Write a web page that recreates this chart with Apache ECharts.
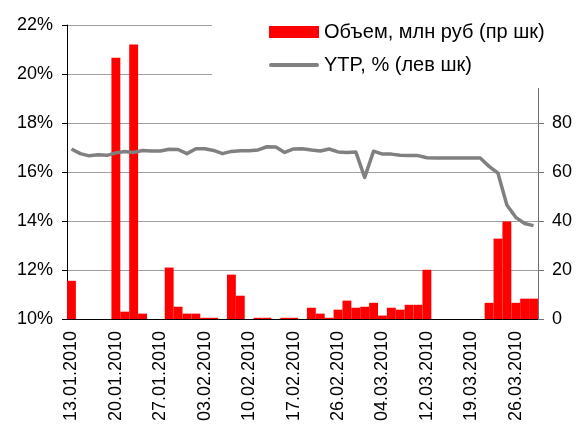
<!DOCTYPE html>
<html>
<head>
<meta charset="utf-8">
<script src="https://cdn.jsdelivr.net/npm/echarts@6/dist/echarts.min.js"></script>
<style>
  html, body { margin: 0; padding: 0; background: #fff; }
  #chart { width: 585px; height: 430px; }
</style>
</head>
<body>
<div id="chart"></div>
<script>
  // trading days, labels shown every 5th
  var dates = ['13.01.2010', '14.01.2010', '15.01.2010', '18.01.2010', '19.01.2010',
    '20.01.2010', '21.01.2010', '22.01.2010', '25.01.2010', '26.01.2010',
    '27.01.2010', '28.01.2010', '29.01.2010', '01.02.2010', '02.02.2010',
    '03.02.2010', '04.02.2010', '05.02.2010', '08.02.2010', '09.02.2010',
    '10.02.2010', '11.02.2010', '12.02.2010', '15.02.2010', '16.02.2010',
    '17.02.2010', '18.02.2010', '19.02.2010', '24.02.2010', '25.02.2010',
    '26.02.2010', '27.02.2010', '01.03.2010', '02.03.2010', '03.03.2010',
    '04.03.2010', '05.03.2010', '09.03.2010', '10.03.2010', '11.03.2010',
    '12.03.2010', '15.03.2010', '16.03.2010', '17.03.2010', '18.03.2010',
    '19.03.2010', '22.03.2010', '23.03.2010', '24.03.2010', '25.03.2010',
    '26.03.2010', '29.03.2010', '30.03.2010']

  // volume, mln rub (right axis)
  var volume = [15.6, 0, 0, 0, 0, 106.6, 3.0, 112, 2.2, 0,
    0, 21, 5.0, 2.2, 2.2, 0.5, 0.5, 0, 18.1, 9.5,
    0, 0.5, 0.5, 0, 0.5, 0.5, 0, 4.6, 2.2, 0.5,
    3.8, 7.5, 4.6, 5.0, 6.6, 1.4, 4.6, 3.8, 5.8, 5.8,
    20.1, 0, 0, 0, 0, 0, 0, 6.6, 32.8, 39.8,
    6.6, 8.3, 8.3]

  // YTP, % (left axis)
  var ytp = [16.94, 16.75, 16.66, 16.70, 16.68, 16.78, 16.84, 16.80, 16.88, 16.86,
    16.86, 16.93, 16.92, 16.75, 16.95, 16.95, 16.88, 16.75, 16.84, 16.87,
    16.87, 16.90, 17.03, 17.02, 16.80, 16.94, 16.95, 16.90, 16.86, 16.94,
    16.82, 16.80, 16.82, 15.78, 16.85, 16.73, 16.73, 16.68, 16.67, 16.67,
    16.58, 16.57, 16.57, 16.57, 16.57, 16.57, 16.57, 16.23, 15.95, 14.65,
    14.15, 13.90, 13.81]

  // left axis ticks, %; right axis 0..120 step 20
  var leftTicks = [10, 12, 14, 16, 18, 20, 22]
  var rightTicks = [0, 20, 40, 60, 80, 100, 120]

  var font = 'Liberation Sans, Arial, sans-serif'
  var chart = echarts.init(document.getElementById('chart'))

  chart.setOption({
    animation: false,
    grid: {
      left: 67,
      right: 38,
      top: 25,
      bottom: 111
    },
    legend: {
      orient: 'vertical',
      left: 264,
      top: 17,
      z: 20,
      itemWidth: 50,
      itemHeight: 12,
      itemGap: 13,
      symbolKeepAspect: true,
      textStyle: { fontFamily: font, fontSize: 20, color: '#000' },
      data: [
        { name: 'Объем, млн руб (пр шк)', icon: 'rect' },
        { name: 'YTP, % (лев шк)', icon: 'path://M2,0 H48 A2,2 0 0 1 48,4 H2 A2,2 0 0 1 2,0 Z' }
      ]
    },
    // white box behind the legend, hides the top of the plot like the original
    graphic: [{
      type: 'rect',
      z: 10,
      shape: { x: 212, y: 0, width: 373, height: 88 },
      style: { fill: '#fff' }
    }],
    xAxis: [{
      type: 'category',
      data: dates,
      boundaryGap: true,
      axisLine: { lineStyle: { color: '#000', width: 1 } },
      axisTick: { interval: 0, length: 6, lineStyle: { color: '#000' } },
      axisLabel: {
        interval: 4,
        rotate: 90,
        margin: 12,
        fontFamily: font,
        fontSize: 18,
        color: '#000'
      },
      splitLine: { show: false }
    }],
    yAxis: [{
      type: 'value',
      position: 'left',
      min: leftTicks[0],
      max: leftTicks[leftTicks.length - 1],
      interval: leftTicks[1] - leftTicks[0],
      axisLine: { show: true, lineStyle: { color: '#000' } },
      axisTick: { show: true, length: 5, lineStyle: { color: '#000', width: 1 } },
      axisLabel: {
        formatter: '{value}%',
        margin: 14,
        fontFamily: font,
        fontSize: 18,
        color: '#000'
      },
      splitLine: { show: true, lineStyle: { color: '#a0a0a0', type: 'solid', width: 1 } }
    }, {
      type: 'value',
      position: 'right',
      min: rightTicks[0],
      max: rightTicks[rightTicks.length - 1],
      interval: rightTicks[1] - rightTicks[0],
      axisLine: { show: true, lineStyle: { color: '#707070' } },
      axisTick: { show: true, length: 6, lineStyle: { color: '#707070', width: 1 } },
      axisLabel: {
        margin: 14,
        fontFamily: font,
        fontSize: 18,
        color: '#000'
      },
      splitLine: { show: false }
    }],
    series: [{
      name: 'Объем, млн руб (пр шк)',
      type: 'bar',
      yAxisIndex: 1,
      z: 2,
      barCategoryGap: '0%',
      itemStyle: { color: '#ff0000' },
      data: volume
    }, {
      name: 'YTP, % (лев шк)',
      type: 'line',
      yAxisIndex: 0,
      symbol: 'none',
      smooth: false,
      z: 3,
      lineStyle: { color: '#808080', width: 3.5, join: 'round' },
      itemStyle: { color: '#808080' },
      data: ytp
    }]
  })
</script>
</body>
</html>
